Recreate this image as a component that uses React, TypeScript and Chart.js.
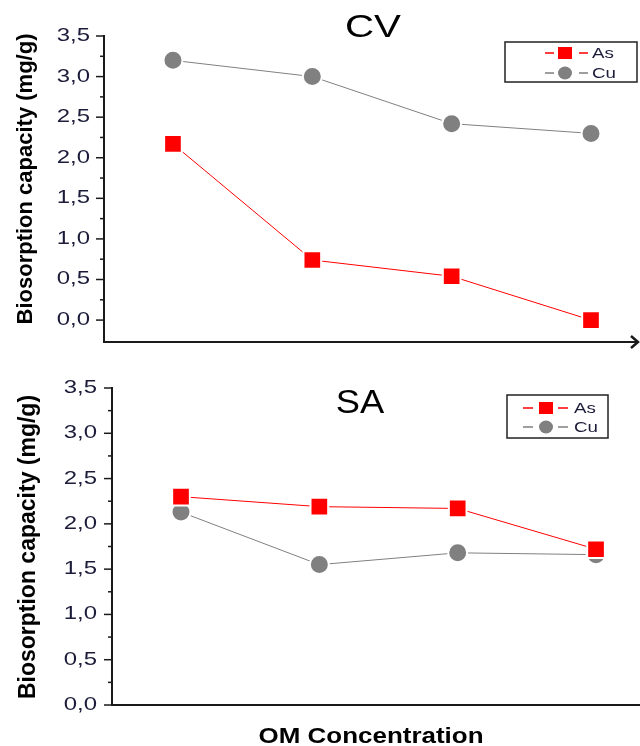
import React, { useEffect, useRef } from 'react';
import { Chart, registerables } from 'chart.js';

Chart.register(...registerables);

// ---- data ----
const categories = ['1', '2', '3', '4'];
const seriesNames = ['As', 'Cu'];
const cvAs = [2.17, 0.74, 0.54, 0.0];
const cvCu = [3.2, 3.0, 2.42, 2.3];
const saAs = [2.3, 2.19, 2.17, 1.72];
const saCu = [2.13, 1.55, 1.68, 1.66];
const yTickValues = [0, 0.5, 1, 1.5, 2, 2.5, 3, 3.5];
const yTickLabels = ['0,0', '0,5', '1,0', '1,5', '2,0', '2,5', '3,0', '3,5'];
const yMinorValues = [0.25, 0.75, 1.25, 1.75, 2.25, 2.75, 3.25];
const panelTitles = ['CV', 'SA'];
const yAxisTitle = 'Biosorption capacity (mg/g)';
const xAxisTitle = 'OM Concentration';

const RED = '#ff0000';
const GRAY = '#808080';
const AXIS = '#1a1a1a';
const TICKTXT = '#1c1c3a';

function txt(ctx: CanvasRenderingContext2D, s: string, x: number, y: number, font: string, color: string, align: CanvasTextAlign, baseline: CanvasTextBaseline, sx = 1) {
  ctx.save();
  ctx.translate(x, y);
  ctx.scale(sx, 1);
  ctx.font = font;
  ctx.fillStyle = color;
  ctx.textAlign = align;
  ctx.textBaseline = baseline;
  ctx.fillText(s, 0, 0);
  ctx.restore();
}

type PanelCfg = {
  width: number;
  height: number;
  as: number[];
  cu: number[];
  title: string;
  yMin: number;
  xMin: number;
  xMax: number;
  axisEnd: number;
  padding: { left: number; top: number; right: number; bottom: number };
  titleX: number;
  titleY: number;
  titleSize: number;
  titleSx: number;
  yTitleX: number;
  yTitleY: number;
  yTitleSize: number;
  tickRight: number;
  arrow: boolean;
  legend: { x: number; y: number; w: number; h: number; d1: number; mc: number; d2: number; tx: number; rows: number[]; dw: number };
  xLabel?: { x: number; y: number };
};

function makeChart(canvas: HTMLCanvasElement, cfg: PanelCfg) {
  const deco = {
    id: 'deco',
    afterDraw(chart: any) {
      const ctx: CanvasRenderingContext2D = chart.ctx;
      const ys = chart.scales.y;
      const ca = chart.chartArea;
      const ax = ca.left;
      ctx.save();
      ctx.strokeStyle = AXIS;
      // x axis extension
      ctx.lineWidth = 2;
      ctx.beginPath();
      ctx.moveTo(ca.right - 1, ca.bottom);
      ctx.lineTo(cfg.axisEnd, ca.bottom);
      ctx.stroke();
      ctx.lineWidth = 1.5;
      // major ticks + labels
      yTickValues.forEach((v, i) => {
        const py = ys.getPixelForValue(v);
        ctx.beginPath();
        ctx.moveTo(ax - 8, py);
        ctx.lineTo(ax, py);
        ctx.stroke();
        txt(ctx, yTickLabels[i], cfg.tickRight, py, '18px "Liberation Sans", Arial, sans-serif', TICKTXT, 'right', 'middle', 1.33);
      });
      yMinorValues.forEach((v) => {
        const py = ys.getPixelForValue(v);
        ctx.beginPath();
        ctx.moveTo(ax - 4, py);
        ctx.lineTo(ax, py);
        ctx.stroke();
      });
      // arrow
      if (cfg.arrow) {
        const ex = cfg.axisEnd;
        const ey = ca.bottom;
        ctx.lineWidth = 2.5;
        ctx.beginPath();
        ctx.moveTo(ex - 7, ey - 6);
        ctx.lineTo(ex, ey);
        ctx.lineTo(ex - 7, ey + 6);
        ctx.stroke();
      }
      ctx.restore();

      // panel title
      txt(ctx, cfg.title, cfg.titleX, cfg.titleY, `${cfg.titleSize}px "Liberation Sans", Arial, sans-serif`, '#000', 'center', 'alphabetic', cfg.titleSx);

      // y title
      ctx.save();
      ctx.translate(cfg.yTitleX, cfg.yTitleY);
      ctx.rotate(-Math.PI / 2);
      ctx.font = `bold ${cfg.yTitleSize}px "Liberation Sans", Arial, sans-serif`;
      ctx.fillStyle = '#000';
      ctx.textAlign = 'center';
      ctx.textBaseline = 'middle';
      ctx.fillText(yAxisTitle, 0, 0);
      ctx.restore();

      // legend
      const L = cfg.legend;
      ctx.save();
      ctx.fillStyle = '#fff';
      ctx.fillRect(L.x, L.y, L.w, L.h);
      ctx.strokeStyle = '#222';
      ctx.lineWidth = 1.5;
      ctx.strokeRect(L.x, L.y, L.w, L.h);
      chart.data.datasets.forEach((ds: any, i: number) => {
        const ry = L.rows[i];
        ctx.strokeStyle = ds.borderColor;
        ctx.lineWidth = 1.5;
        ctx.beginPath();
        ctx.moveTo(L.d1, ry);
        ctx.lineTo(L.d1 + L.dw, ry);
        ctx.moveTo(L.d2, ry);
        ctx.lineTo(L.d2 + L.dw, ry);
        ctx.stroke();
        ctx.fillStyle = ds.backgroundColor;
        if (ds.pointStyle === 'rect') {
          ctx.fillRect(L.mc - 7, ry - 6, 14, 12);
        } else {
          ctx.beginPath();
          ctx.ellipse(L.mc, ry, 7, 6.5, 0, 0, Math.PI * 2);
          ctx.fill();
        }
        txt(ctx, ds.label, L.tx, ry + 1, '15px "Liberation Sans", Arial, sans-serif', TICKTXT, 'left', 'middle', 1.25);
      });
      ctx.restore();

      if (cfg.xLabel) {
        txt(ctx, xAxisTitle, cfg.xLabel.x, cfg.xLabel.y, 'bold 22px "Liberation Sans", Arial, sans-serif', '#000', 'center', 'alphabetic', 1.18);
      }
    },
  };

  const pos = (i: number) => categories.indexOf(categories[i]) + 1;

  return new Chart(canvas, {
    type: 'line',
    data: {
      datasets: [
        {
          label: seriesNames[0],
          data: cfg.as.map((v, i) => ({ x: pos(i), y: v })),
          borderColor: RED,
          backgroundColor: RED,
          borderWidth: 1,
          pointStyle: 'rect',
          pointRadius: 12.5,
          pointHoverRadius: 12.5,
          pointBorderColor: '#ffffff',
          pointBorderWidth: 2,
          tension: 0,
          clip: false,
        } as any,
        {
          label: seriesNames[1],
          data: cfg.cu.map((v, i) => ({ x: pos(i), y: v })),
          borderColor: GRAY,
          backgroundColor: GRAY,
          borderWidth: 1,
          pointStyle: 'circle',
          pointRadius: 9.5,
          pointHoverRadius: 9.5,
          pointBorderColor: '#ffffff',
          pointBorderWidth: 2,
          tension: 0,
          clip: false,
        } as any,
      ],
    },
    options: {
      responsive: false,
      animation: false,
      devicePixelRatio: 1,
      events: [],
      layout: { padding: cfg.padding },
      plugins: {
        legend: { display: false },
        tooltip: { enabled: false },
        title: { display: false },
      },
      scales: {
        x: {
          type: 'linear',
          min: cfg.xMin,
          max: cfg.xMax,
          ticks: { display: false },
          grid: { display: false },
          border: { display: true, color: AXIS, width: 2 },
          afterFit: (s: any) => {
            s.height = 0;
          },
        },
        y: {
          type: 'linear',
          min: cfg.yMin,
          max: 3.5,
          ticks: { display: false, stepSize: 0.5, includeBounds: false },
          grid: { display: false },
          border: { display: true, color: AXIS, width: 2 },
          afterFit: (s: any) => {
            s.width = 0;
          },
        },
      },
    } as any,
    plugins: [deco],
  });
}

// chart area right edge ends at 640 - 14.5 (point overflow padding)
const topCfg: PanelCfg = {
  width: 640,
  height: 357,
  as: cvAs,
  cu: cvCu,
  title: panelTitles[0],
  yMin: -0.27,
  xMin: 0.505,
  xMax: 4.2476,
  axisEnd: 638,
  padding: { left: 104, top: 36, right: 2, bottom: 15 },
  titleX: 373,
  titleY: 37,
  titleSize: 31,
  titleSx: 1.3,
  yTitleX: 26,
  yTitleY: 179,
  yTitleSize: 22,
  tickRight: 90,
  arrow: true,
  legend: { x: 505, y: 42, w: 132, h: 40, d1: 545, mc: 565, d2: 579, tx: 592, rows: [53, 73], dw: 9 },
};

const bottomCfg: PanelCfg = {
  width: 640,
  height: 389,
  as: saAs,
  cu: saCu,
  title: panelTitles[1],
  yMin: 0,
  xMin: 0.5012,
  xMax: 4.213,
  axisEnd: 640,
  padding: { left: 112, top: 31, right: 0, bottom: 41 },
  titleX: 360,
  titleY: 56,
  titleSize: 33,
  titleSx: 1.1,
  yTitleX: 29,
  yTitleY: 190,
  yTitleSize: 23,
  tickRight: 97,
  arrow: false,
  legend: { x: 507, y: 38, w: 101, h: 43, d1: 523, mc: 546, d2: 558, tx: 574, rows: [51, 70], dw: 10 },
  xLabel: { x: 371, y: 386 },
};

export default function App() {
  const topRef = useRef<HTMLCanvasElement>(null);
  const botRef = useRef<HTMLCanvasElement>(null);

  useEffect(() => {
    const c1 = makeChart(topRef.current!, topCfg);
    const c2 = makeChart(botRef.current!, bottomCfg);
    return () => {
      c1.destroy();
      c2.destroy();
    };
  }, []);

  return (
    <div style={{ position: 'absolute', left: 0, top: 0, width: 640, height: 746, background: '#fff' }}>
      <canvas ref={topRef} width={topCfg.width} height={topCfg.height} style={{ display: 'block', width: topCfg.width, height: topCfg.height }} />
      <canvas ref={botRef} width={bottomCfg.width} height={bottomCfg.height} style={{ display: 'block', width: bottomCfg.width, height: bottomCfg.height }} />
    </div>
  );
}
